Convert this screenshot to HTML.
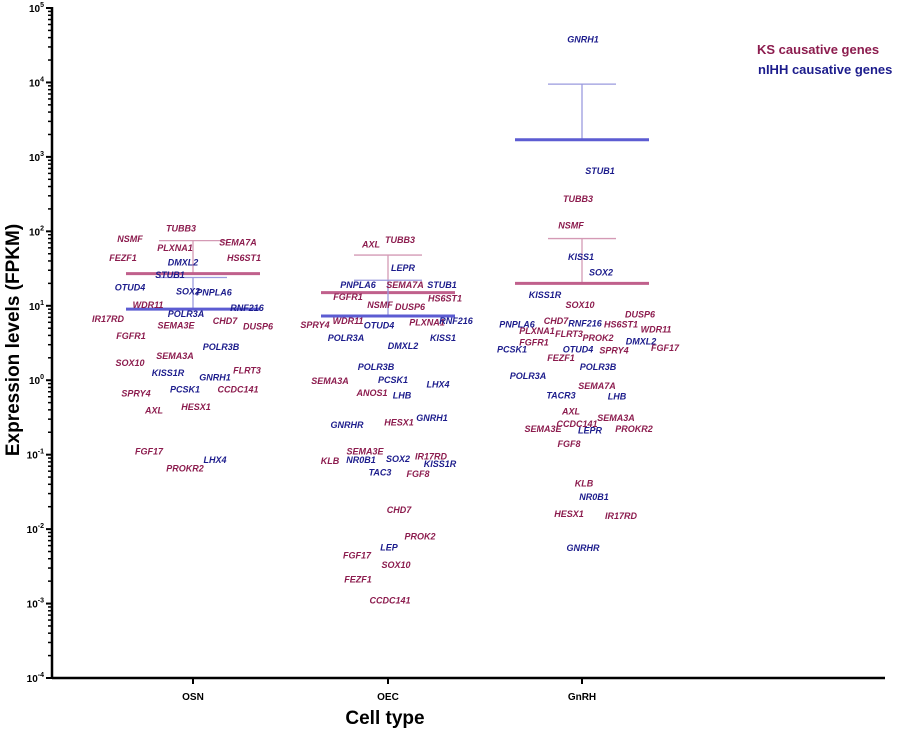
<!DOCTYPE html>
<html><head><meta charset="utf-8"><style>
body{margin:0;background:#fff;}
svg{display:block;font-family:"Liberation Sans",Arial,sans-serif;}
.g{font-size:9px;font-weight:bold;font-style:italic;}
</style></head><body>
<svg id="chart" width="901" height="731">
<g id="axes"></g><g id="bars"></g><g id="marks"></g>
<text x="757" y="54" fill="#8c1c4e" font-size="13" font-weight="bold">KS causative genes</text>
<text x="758" y="74" fill="#1c1c8c" font-size="13" font-weight="bold">nIHH causative genes</text>
<text x="385" y="724" text-anchor="middle" font-size="19" font-weight="bold">Cell type</text>
<text transform="translate(19,340) rotate(-90)" text-anchor="middle" font-size="19" font-weight="bold">Expression levels (FPKM)</text>
</svg>
<script>
const categories=["OSN","OEC","GnRH"];
const categoryCenters=[193,388,582];
const ksMedian=[27,15,20];
const ksQ3=[75,48,80];
const nihhMedian=[9,7.3,1700];
const nihhQ3=[24,22,9500];
// genes: [group index, type(0=KS,1=nIHH), name, x offset from group center, value FPKM]
const genes=[
[0,0,"TUBB3",-12,110],[0,0,"NSMF",-63,79],[0,0,"PLXNA1",-18,60],[0,0,"SEMA7A",45,71],[0,0,"FEZF1",-70,44],[0,0,"HS6ST1",51,44],
[0,1,"DMXL2",-10,38],[0,1,"STUB1",-23,26],[0,1,"OTUD4",-63,17.5],[0,1,"SOX2",-5,15.5],[0,1,"PNPLA6",21,15],[0,0,"WDR11",-45,10.3],
[0,1,"RNF216",54,9.4],[0,1,"POLR3A",-7,7.7],[0,0,"IR17RD",-85,6.6],[0,0,"CHD7",32,6.2],[0,0,"SEMA3E",-17,5.4],[0,0,"DUSP6",65,5.3],
[0,0,"FGFR1",-62,3.9],[0,1,"POLR3B",28,2.8],[0,0,"SEMA3A",-18,2.1],[0,0,"SOX10",-63,1.7],[0,1,"KISS1R",-25,1.25],[0,0,"FLRT3",54,1.36],
[0,1,"GNRH1",22,1.08],[0,1,"PCSK1",-8,0.75],[0,0,"CCDC141",45,0.75],[0,0,"SPRY4",-57,0.66],[0,0,"HESX1",3,0.44],[0,0,"AXL",-39,0.39],
[0,0,"FGF17",-44,0.11],[0,1,"LHX4",22,0.085],[0,0,"PROKR2",-8,0.065],
[1,0,"AXL",-17,67],[1,0,"TUBB3",12,76],[1,1,"LEPR",15,32],[1,1,"PNPLA6",-30,19],[1,0,"SEMA7A",17,19],[1,1,"STUB1",54,19],
[1,0,"FGFR1",-40,13.2],[1,0,"HS6ST1",57,12.5],[1,0,"NSMF",-8,10.3],[1,0,"DUSP6",22,9.6],[1,0,"SPRY4",-73,5.5],[1,0,"WDR11",-40,6.2],
[1,1,"OTUD4",-9,5.4],[1,0,"PLXNA1",39,6.0],[1,1,"RNF216",68,6.2],[1,1,"POLR3A",-42,3.7],[1,1,"KISS1",55,3.7],[1,1,"DMXL2",15,2.9],
[1,1,"POLR3B",-12,1.5],[1,0,"SEMA3A",-58,0.97],[1,1,"PCSK1",5,1.0],[1,1,"LHX4",50,0.88],[1,0,"ANOS1",-16,0.67],[1,1,"LHB",14,0.62],
[1,1,"GNRHR",-41,0.25],[1,0,"HESX1",11,0.27],[1,1,"GNRH1",44,0.31],[1,0,"SEMA3E",-23,0.11],[1,0,"IR17RD",43,0.095],[1,0,"KLB",-58,0.082],
[1,1,"NR0B1",-27,0.085],[1,1,"SOX2",10,0.087],[1,1,"KISS1R",52,0.075],[1,1,"TAC3",-8,0.058],[1,0,"FGF8",30,0.055],[1,0,"CHD7",11,0.018],
[1,0,"PROK2",32,0.0079],[1,1,"LEP",1,0.0057],[1,0,"FGF17",-31,0.0044],[1,0,"SOX10",8,0.0033],[1,0,"FEZF1",-30,0.0021],[1,0,"CCDC141",2,0.0011],
[2,1,"GNRH1",1,38000],[2,1,"STUB1",18,650],[2,0,"TUBB3",-4,270],[2,0,"NSMF",-11,120],[2,1,"KISS1",-1,45],[2,1,"SOX2",19,28],
[2,1,"KISS1R",-37,14],[2,0,"SOX10",-2,10.3],[2,0,"DUSP6",58,7.6],[2,1,"PNPLA6",-65,5.6],[2,0,"CHD7",-26,6.2],[2,1,"RNF216",3,5.8],
[2,0,"HS6ST1",39,5.6],[2,0,"WDR11",74,4.8],[2,0,"PLXNA1",-45,4.6],[2,0,"FLRT3",-13,4.2],[2,0,"PROK2",16,3.7],[2,0,"FGFR1",-48,3.2],
[2,1,"DMXL2",59,3.3],[2,1,"PCSK1",-70,2.6],[2,1,"OTUD4",-4,2.6],[2,0,"SPRY4",32,2.5],[2,0,"FGF17",83,2.7],[2,0,"FEZF1",-21,2.0],
[2,1,"POLR3B",16,1.5],[2,1,"POLR3A",-54,1.14],[2,0,"SEMA7A",15,0.83],[2,1,"TACR3",-21,0.62],[2,1,"LHB",35,0.6],[2,0,"AXL",-11,0.38],
[2,0,"SEMA3A",34,0.31],[2,0,"CCDC141",-5,0.26],[2,0,"SEMA3E",-39,0.22],[2,1,"LEPR",8,0.21],[2,0,"PROKR2",52,0.22],[2,0,"FGF8",-13,0.14],
[2,0,"KLB",2,0.041],[2,1,"NR0B1",12,0.027],[2,0,"HESX1",-13,0.016],[2,0,"IR17RD",39,0.015],[2,1,"GNRHR",1,0.0056]
];
const yTickExps=[5,4,3,2,1,0,-1,-2,-3,-4];
const NS="http://www.w3.org/2000/svg";
const X0=52,X1=885,YTOP=8,YBOT=678;
function y(v){return YBOT-(Math.log10(v)+4)/9*(YBOT-YTOP);}
function mk(t,attrs,parent){const e=document.createElementNS(NS,t);for(const k in attrs)e.setAttribute(k,attrs[k]);parent.appendChild(e);return e;}
const axes=document.getElementById('axes');
let a=mk('line',{x1:X0,y1:YTOP-1,x2:X0,y2:YBOT,stroke:'#000','stroke-width':2.5},axes);


a=mk('line',{x1:X0,y1:YBOT,x2:X1,y2:YBOT,stroke:'#000','stroke-width':2.5},axes);


yTickExps.forEach(e=>{
  const yy=y(Math.pow(10,e));
  mk('line',{x1:X0-6,y1:yy,x2:X0,y2:yy,stroke:'#000','stroke-width':2},axes);
  const t=mk('text',{x:X0-8,y:yy+4,'text-anchor':'end','font-size':10,'font-weight':'bold'},axes);
  
  
  t.appendChild(document.createTextNode('10'));
  const s=mk('tspan',{dy:-5,'font-size':7},t);s.textContent=String(e);
  if(e>-4){for(let m=2;m<=9;m++){const my=y(m*Math.pow(10,e-1));mk('line',{x1:X0-4,y1:my,x2:X0,y2:my,stroke:'#000','stroke-width':1.5},axes);}}
});
categories.forEach((c,i)=>{
  const cx=categoryCenters[i];
  mk('line',{x1:cx,y1:YBOT,x2:cx,y2:YBOT+6,stroke:'#000','stroke-width':2},axes);
  const t=mk('text',{x:cx,y:YBOT+22,'text-anchor':'middle','font-size':10,'font-weight':'bold'},axes);
  
  
  t.textContent=c;
});
const bars=document.getElementById('bars');
function summary(i,med,q3,thick,thin,name){
  const cx=categoryCenters[i];
  const g=mk('g',{},bars);
  
  
  mk('line',{x1:cx,y1:y(q3),x2:cx,y2:y(med),stroke:thin,'stroke-width':1.3},g);
  mk('line',{x1:cx-34,y1:y(q3),x2:cx+34,y2:y(q3),stroke:thin,'stroke-width':1.3},g);
  mk('line',{x1:cx-67,y1:y(med),x2:cx+67,y2:y(med),stroke:thick,'stroke-width':3},g);
}
categories.forEach((c,i)=>{
  summary(i,ksMedian[i],ksQ3[i],'#c0608c','#d49ab5','ks-median-'+c.toLowerCase());
  summary(i,nihhMedian[i],nihhQ3[i],'#5c5cd2','#9a9ade','nihh-median-'+c.toLowerCase());
});
const marks=document.getElementById('marks');
genes.forEach(gn=>{
  const t=mk('text',{x:categoryCenters[gn[0]]+gn[3],y:y(gn[4])+3,'text-anchor':'middle','class':'g',fill:gn[1]?'#1c1c8c':'#8c1c4e'},marks);
  
  
  t.textContent=gn[2];
});
</script>
</body></html>
